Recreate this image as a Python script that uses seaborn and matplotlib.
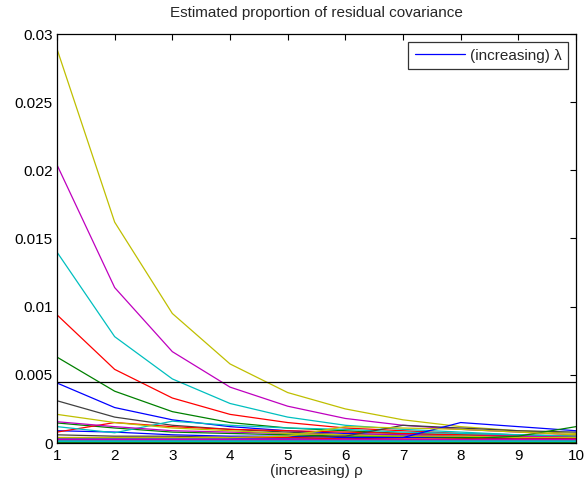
import numpy as np
import pandas as pd
import matplotlib
matplotlib.use("Agg")
import matplotlib.pyplot as plt
import seaborn as sns

rho = [1, 2, 3, 4, 5, 6, 7, 8, 9, 10]

b1 = [0.0044, 0.0026, 0.0017, 0.0012, 0.0009, 0.0007, 0.0006, 0.0005, 0.0004, 0.0004]
g1 = [0.0063, 0.0038, 0.0023, 0.0015, 0.0011, 0.0009, 0.0007, 0.0006, 0.0005, 0.0004]
r1 = [0.0094, 0.0054, 0.0033, 0.0021, 0.0015, 0.0011, 0.0009, 0.0007, 0.0006, 0.0005]
c1 = [0.0140, 0.0078, 0.0047, 0.0029, 0.0019, 0.0013, 0.0010, 0.0008, 0.0006, 0.0005]
m1 = [0.0204, 0.0114, 0.0067, 0.0041, 0.0027, 0.0018, 0.0013, 0.0010, 0.0008, 0.0006]
y1 = [0.0289, 0.0162, 0.0095, 0.0058, 0.0037, 0.0025, 0.0017, 0.0012, 0.0009, 0.0007]
k1 = [0.0031, 0.0019, 0.0013, 0.0010, 0.0008, 0.0006, 0.0005, 0.0004, 0.0004, 0.0003]

b2 = [0.0009, 0.0008, 0.0006, 0.0005, 0.0005, 0.0004, 0.0004, 0.0004, 0.0003, 0.0003]
g2 = [0.00147, 0.0011, 0.0008, 0.0007, 0.0006, 0.0005, 0.0005, 0.0004, 0.0004, 0.0004]
r2 = [0.0008, 0.0015, 0.0012, 0.0010, 0.0009, 0.0008, 0.0007, 0.0006, 0.0005, 0.0005]
c2 = [0.0012, 0.00075, 0.0016, 0.0013, 0.0011, 0.0010, 0.0008, 0.0007, 0.0006, 0.0005]
m2 = [0.00156, 0.0012, 0.0009, 0.0008, 0.0007, 0.0006, 0.0006, 0.0005, 0.0005, 0.0004]
y2 = [0.0021, 0.0015, 0.0011, 0.0009, 0.0007, 0.0006, 0.0005, 0.0005, 0.0004, 0.0004]
k2 = [0.0006, 0.0005, 0.0005, 0.0004, 0.0004, 0.0005, 0.0013, 0.0011, 0.0009, 0.0008]

b3 = [0.0003, 0.0003, 0.0003, 0.0003, 0.0003, 0.0003, 0.0004, 0.0015, 0.0012, 0.0009]
g3 = [0.0002, 0.0002, 0.0002, 0.0002, 0.0002, 0.0002, 0.0002, 0.0003, 0.0005, 0.0012]
r3 = [0.0004, 0.0004, 0.0004, 0.0004, 0.0004, 0.0003, 0.0003, 0.0003, 0.0003, 0.0003]
c3 = [0.0002, 0.0002, 0.0002, 0.0002, 0.0002, 0.0002, 0.0002, 0.0002, 0.0002, 0.0002]
m3 = [0.0003, 0.0003, 0.0003, 0.0003, 0.0003, 0.0003, 0.0003, 0.0003, 0.0003, 0.0003]
y3 = [0.0004, 0.0004, 0.0004, 0.0004, 0.0005, 0.0012, 0.0011, 0.0010, 0.0008, 0.0006]
k3 = [0.0001, 0.0001, 0.0001, 0.0001, 0.0001, 0.0001, 0.0001, 0.0001, 0.0001, 0.0001]

b4 = [0.00008, 0.00008, 0.00008, 0.00008, 0.00008, 0.00008, 0.00008, 0.00008, 0.00008, 0.00008]
g4 = [0.00005, 0.00005, 0.00005, 0.00005, 0.00005, 0.00005, 0.00005, 0.00005, 0.00005, 0.00005]
r4 = [0.00015, 0.00015, 0.00015, 0.00015, 0.00015, 0.00015, 0.00015, 0.00015, 0.00015, 0.00015]
c4 = [0.00012, 0.00012, 0.00012, 0.00012, 0.00012, 0.00012, 0.00012, 0.00012, 0.00012, 0.00012]

series = [b1, g1, r1, c1, m1, y1, k1,
          b2, g2, r2, c2, m2, y2, k2,
          b3, g3, r3, c3, m3, y3, k3,
          b4, g4, r4, c4]

threshold = 0.0045
yticks = [0, 0.005, 0.01, 0.015, 0.02, 0.025, 0.03]
ytick_labels = ["0", "0.005", "0.01", "0.015", "0.02", "0.025", "0.03"]

matlab_colors = [(0, 0, 1), (0, 0.5, 0), (1, 0, 0), (0, 0.75, 0.75),
                 (0.75, 0, 0.75), (0.75, 0.75, 0), (0.25, 0.25, 0.25)]

rows = []
for i, s in enumerate(series):
    for x, v in zip(rho, s):
        rows.append({"rho": x, "value": v, "series": i})
df = pd.DataFrame(rows)
palette = [matlab_colors[i % 7] for i in range(len(series))]

sns.set_style("white")
plt.rcParams["font.family"] = ["Liberation Sans", "DejaVu Sans"]

FS = 11

fig = plt.figure(figsize=(5.87, 4.90), dpi=100)
ax = fig.add_axes([57 / 587, 47 / 490, 519 / 587, 409 / 490])

sns.lineplot(data=df, x="rho", y="value", hue="series", palette=palette,
             legend=False, ax=ax, linewidth=0.9, estimator=None, sort=False)

ax.axhline(threshold, color="black", linewidth=0.9)

ax.set_xlim(1, 10)
ax.set_ylim(0, 0.03)
ax.set_xticks(rho)
ax.set_xticklabels([str(r) for r in rho])
ax.set_yticks(yticks)
ax.set_yticklabels(ytick_labels)
ax.tick_params(direction="in", length=4, width=0.8, labelsize=FS,
               top=True, right=True, colors="black", pad=3)
ax.tick_params(axis="x", pad=4)
for sp in ax.spines.values():
    sp.set_visible(True)
    sp.set_color("black")
    sp.set_linewidth(0.9)

ax.set_xlabel("(increasing) \u03c1", fontsize=FS, labelpad=1)
ax.set_ylabel("")
ax.set_title("Estimated proportion of residual covariance", fontsize=FS, pad=12)

first = ax.get_lines()[0]
leg = ax.legend([first], ["(increasing) \u03bb"], loc="upper right",
                fontsize=FS, frameon=True, fancybox=False, edgecolor="black",
                handlelength=3.3, handletextpad=0.3, borderaxespad=0.5,
                borderpad=0.45)
leg.get_frame().set_linewidth(0.9)

fig.savefig("out.png", dpi=100)
